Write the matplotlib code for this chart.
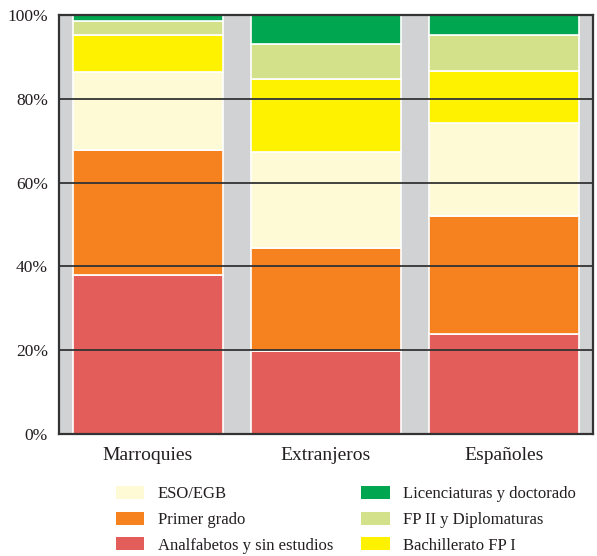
import matplotlib
matplotlib.use("Agg")
import matplotlib.pyplot as plt
import numpy as np

categories = ["Marroquies", "Extranjeros", "Españoles"]
series_names = ["Analfabetos y sin estudios", "Primer grado", "ESO/EGB",
                "Bachillerato FP I", "FP II y Diplomaturas", "Licenciaturas y doctorado"]
analfabetos = [37.9, 19.9, 23.9]
primer_grado = [29.9, 24.4, 28.1]
eso_egb = [18.6, 23.1, 22.2]
bachillerato = [8.8, 17.4, 12.4]
fp2 = [3.4, 8.3, 8.7]
licenciaturas = [1.4, 6.9, 4.7]
yticks = [0, 20, 40, 60, 80, 100]
ytick_labels = ["0%", "20%", "40%", "60%", "80%", "100%"]

colors = {
    "Analfabetos y sin estudios": "#e35d5a",
    "Primer grado": "#f5821f",
    "ESO/EGB": "#fefad6",
    "Bachillerato FP I": "#fff200",
    "FP II y Diplomaturas": "#d3e18a",
    "Licenciaturas y doctorado": "#00a650",
}

plt.rcParams['font.family'] = ['Liberation Serif', 'DejaVu Serif']
text_color = "#231f20"

fig = plt.figure(figsize=(5.97, 5.56), dpi=100)
ax = fig.add_axes([59/597, 1-434/556, 534/597, 419/556])
ax.set_facecolor("#d1d2d4")

data = [analfabetos, primer_grado, eso_egb, bachillerato, fp2, licenciaturas]
x = np.arange(len(categories))
bottom = np.zeros(len(categories))
handles = {}
for name, vals in zip(series_names, data):
    b = ax.bar(x, vals, bottom=bottom, width=0.843, color=colors[name],
               edgecolor="white", linewidth=1.2, label=name, zorder=1)
    handles[name] = b
    bottom += np.array(vals)

ax.set_xlim(-0.5, 2.5)
ax.set_ylim(0, 100)
ax.set_yticks(yticks)
ax.set_yticklabels(ytick_labels)
ax.set_xticks(x)
ax.set_xticklabels(categories)
ax.tick_params(axis='both', length=0, colors=text_color)
ax.tick_params(axis='y', pad=8, labelsize=12.5)
ax.tick_params(axis='x', pad=9, labelsize=14)
ax.set_axisbelow(False)
ax.yaxis.grid(True, color="#333333", linewidth=1.3)
for s in ax.spines.values():
    s.set_color("#333333")
    s.set_linewidth(1.6)

order = ["ESO/EGB", "Primer grado", "Analfabetos y sin estudios",
         "Licenciaturas y doctorado", "FP II y Diplomaturas", "Bachillerato FP I"]
leg = fig.legend([handles[n] for n in order], order, ncol=2,
                 loc="upper left", bbox_to_anchor=(116/597, 1-486/556),
                 frameon=False, fontsize=12, handlelength=1.7, handleheight=0.85,
                 handletextpad=0.8, columnspacing=1.7, labelspacing=0.55,
                 borderpad=0, borderaxespad=0)
for t in leg.get_texts():
    t.set_color(text_color)
for p in leg.get_patches():
    p.set_edgecolor("none")

fig.savefig("out.png", dpi=100)
